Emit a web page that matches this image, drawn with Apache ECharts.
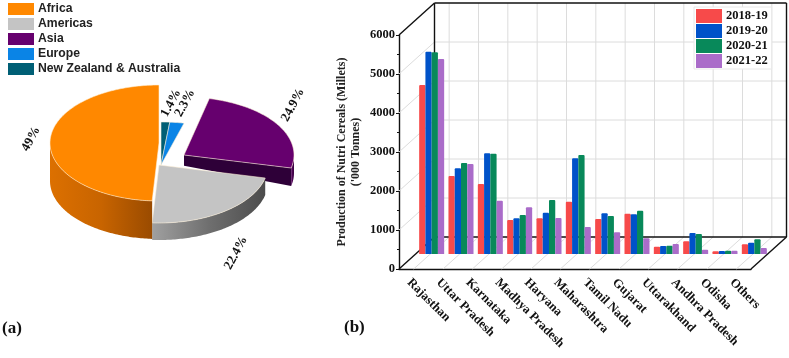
<!DOCTYPE html>
<html><head><meta charset="utf-8">
<style>html,body{margin:0;padding:0;background:#fff}#c{width:789px;height:358px}</style>
<script src="https://cdn.jsdelivr.net/npm/echarts@6/dist/echarts.min.js"></script>
</head><body><div id="c"></div>
<script>
// ---- Data: pie (a)
const regions = ['Africa','Americas','Asia','Europe','New Zealand & Australia'];
const shares  = [49, 22.4, 24.9, 2.3, 1.4];
// ---- Data: bars (b)
const states = ['Rajasthan','Uttar Pradesh','Karnataka','Madhya Pradesh','Haryana','Maharashtra','Tamil Nadu','Gujarat','Uttarakhand','Andhra Pradesh','Odisha','Others'];
const years  = ['2018-19','2019-20','2020-21','2021-22'];
const y2018 = [4333,2000,1795,872,915,1342,897,1034,188,325,68,248];
const y2019 = [5187,2197,2581,915,1060,2453,1043,1017,205,538,77,290];
const y2020 = [5170,2333,2573,1000,1385,2538,974,1111,214,513,85,376];
const y2021 = [5000,2308,1367,1197,923,692,556,402,256,111,85,154];
const yearValues = [y2018,y2019,y2020,y2021];
const yearColors = ['#f74a4a','#0052c9','#08895a','#aa6cc9'];

// ---- Appearance of the pie slices (drawing order matters: back to front)
const sliceStyle = {
  'New Zealand & Australia': {top:'#005f75',cx:161,cy:165,rx:100,ry:43,depth:0,lx:171,ly:103},
  'Europe':  {top:'#0a84e6',cx:161,cy:165,rx:100,ry:43,depth:0,lx:185,ly:103},
  'Asia':    {top:'#66006e',face:'#2e0038',side:['#5a0a62','#3a0040'],cx:184,cy:155,rx:110,ry:58,depth:18,lx:293,ly:105},
  'Americas':{top:'#c4c4c4',side:['#a0a0a0','#6f6f6f','#4c4c4c'],cx:159,cy:165,rx:109,ry:58,depth:17,lx:236,ly:253},
  'Africa':  {top:'#ff8800',side:['#dc7000','#c86400','#9a4b00'],cx:159,cy:143,rx:109,ry:58,depth:38,lx:31,ly:139}
};
// Clockwise start angle of each slice, from the top of the pie
const clockwiseOrder = ['New Zealand & Australia','Europe','Asia','Americas','Africa'];
function sliceAngles(name){
  let a = 0;
  for (const n of clockwiseOrder){
    const d = shares[regions.indexOf(n)] * 3.6;
    if (n === name) return [a, a + d];
    a += d;
  }
}
function pt(s, deg, dy){
  const r = deg * Math.PI / 180;
  return [s.cx + s.rx * Math.sin(r), s.cy - s.ry * Math.cos(r) + (dy || 0)];
}
function arc(s, a, b, dy){
  const out = [], n = Math.max(2, Math.ceil(Math.abs(b - a)));
  for (let i = 0; i <= n; i++) out.push(pt(s, a + (b - a) * i / n, dy));
  return out;
}
function hGrad(stops){
  return {type:'linear',x:0,y:0,x2:1,y2:0,colorStops:stops.map((c,i)=>({offset:i/(stops.length-1),color:c}))};
}
function renderSlice(name){
  return function(params, api){
    const s = sliceStyle[name], val = api.value(0);
    const [a0, a1] = sliceAngles(name);
    const kids = [];
    if (s.depth){
      // cut face (only Asia shows it) and the curved outer side
      if (s.face){
        const e = pt(s, a1);
        kids.push({type:'polygon',shape:{points:[[s.cx,s.cy],e,[e[0],e[1]+s.depth],[s.cx,s.cy+s.depth*0.6]]},style:{fill:s.face}});
      }
      const from = Math.max(a0, 90), to = Math.min(a1, 270);
      if (to > from){
        const pts = arc(s, from, to, 0).concat(arc(s, to, from, s.depth));
        kids.push({type:'polygon',shape:{points:pts},style:{
          fill: name === 'Africa' ? {type:'linear',x:1,y:0,x2:0,y2:0,colorStops:[{offset:0,color:s.side[2]},{offset:.5,color:s.side[1]},{offset:1,color:s.side[0]}]} : hGrad(s.side)}});
      }
    }
    const top = [[s.cx,s.cy]].concat(arc(s, a0, a1, 0));
    kids.push({type:'polygon',shape:{points:top},style:{fill:s.top,stroke:'rgba(255,240,215,0.8)',lineWidth:0.7}});
    kids.push({type:'text',x:s.lx,y:s.ly,rotation:62*Math.PI/180,style:{
      text: val + '%',x:0,y:0,align:'center',verticalAlign:'middle',
      font:'bold 13px "Liberation Serif"',fill:'#111'}});
    return {type:'group',children:kids};
  };
}
const pieSeries = ['New Zealand & Australia','Europe','Asia','Americas','Africa'].map(name => ({
  type:'custom',name,coordinateSystem:'none',silent:true,z:3,animation:false,
  itemStyle:{color:sliceStyle[name].top},
  data:[[shares[regions.indexOf(name)]]],
  dimensions:['share'],encode:{value:0},
  renderItem:renderSlice(name)
}));

// ---- Pseudo-3D box around the bar chart, derived from the front axes
const depthX = 35.5, depthY = -32;
const yTicks = [0,1000,2000,3000,4000,5000,6000];
function renderBox(params, api){
  const g = params.coordSys, d = (p)=>[p[0]+depthX,p[1]+depthY];
  const grey = {stroke:'#dcdcdc',lineWidth:1}, black = {stroke:'#111',lineWidth:1.4};
  const line = (a,b,st)=>({type:'line',shape:{x1:a[0],y1:a[1],x2:b[0],y2:b[1]},style:st});
  const kids = [];
  const L = g.x, R = g.x + g.width, T = g.y, B = g.y + g.height;
  yTicks.forEach(v=>{
    const p = [L, api.coord([0,v])[1]], q = [R, p[1]];
    if (v > 0 && v < 6000) kids.push(line(d(p), d(q), grey));
    if (v > 0 && v < 6000) kids.push(line(p, d(p), grey));
  });
  states.forEach((c,i)=>{
    const x = api.coord([i,0])[0];
    kids.push(line(d([x,B]), d([x,T]), grey));
    kids.push(line([x,B], d([x,B]), grey));
  });
  kids.push(line(d([L,T]), d([R,T]), black), line(d([L,T]), d([L,B]), black), line(d([R,T]), d([R,B]), black), line(d([L,B]), d([R,B]), black));
  kids.push(line([L,T], d([L,T]), black), line([L,B], d([L,B]), black), line([R,B], d([R,B]), black));
  return {type:'group',children:kids};
}

const serif = '"Liberation Serif"';
const barSeries = years.map((y,i)=>({
  type:'bar',name:y,xAxisIndex:1,yAxisIndex:1,data:yearValues[i],
  barWidth:6.25,barGap:0,z:3,animation:false,silent:true,
  itemStyle:{color:yearColors[i],borderRadius:[1,1,0,0]}
}));

const option = {
  animation:false,backgroundColor:'#fff',
  legend:[
    {data:regions,orient:'vertical',left:8,top:3,padding:0,itemWidth:26,itemHeight:12,itemGap:3,icon:'rect',selectedMode:false,
     textStyle:{fontFamily:'"Liberation Sans"',fontWeight:'bold',fontSize:12.2,color:'#222',padding:[1,0,0,-1]}},
    {data:years,orient:'vertical',left:694,top:7,padding:[2,4,1,2],itemWidth:26,itemHeight:14,itemGap:1,icon:'rect',selectedMode:false,
     backgroundColor:'#fff',borderColor:'#e8e8e8',borderWidth:1,
     textStyle:{fontFamily:serif,fontWeight:'bold',fontSize:12.5,color:'#111',padding:[0,0,0,-1]}}
  ],
  grid:[
    {left:399,top:35,width:352,height:234},
    {left:417,top:20,width:352,height:234}
  ],
  xAxis:[
    {type:'category',gridIndex:0,data:states,
     axisLine:{lineStyle:{color:'#111',width:1.4}},
     axisTick:{alignWithLabel:true,length:3,lineStyle:{color:'#111'}},
     axisLabel:{rotate:-45,interval:0,margin:7,verticalAlign:'top',fontFamily:serif,fontWeight:'bold',fontSize:12.6,color:'#111'}},
    {type:'category',gridIndex:1,data:states,show:false},
    {type:'category',gridIndex:0,data:states,position:'bottom',
     axisLine:{show:false},axisLabel:{show:false},axisTick:{length:2,lineStyle:{color:'#111'}}}
  ],
  yAxis:[
    {type:'value',gridIndex:0,min:0,max:6000,interval:1000,
     name:"Production of Nutri Cereals (Millets)\n('000 Tonnes)",nameLocation:'middle',nameRotate:90,nameGap:36,
     nameTextStyle:{fontFamily:serif,fontWeight:'bold',fontSize:12,color:'#222',lineHeight:14},
     axisLine:{show:true,lineStyle:{color:'#111',width:1.4}},
     axisTick:{show:true,length:3,lineStyle:{color:'#111'}},
     minorTick:{show:true,splitNumber:2,length:2,lineStyle:{color:'#111'}},
     splitLine:{show:false},
     axisLabel:{margin:4,formatter:(v)=>String(v),fontFamily:serif,fontWeight:'bold',fontSize:12.5,color:'#111'}},
    {type:'value',gridIndex:1,min:0,max:6000,show:false,splitLine:{show:false}}
  ],
  series:[
    {type:'custom',name:'box',xAxisIndex:0,yAxisIndex:0,silent:true,z:1,clip:false,data:[[0,0]],renderItem:renderBox,animation:false}
  ].concat(barSeries,pieSeries),
  graphic:[
    {type:'text',left:2,top:320,style:{text:'(a)',font:'bold 17px '+serif,fill:'#111'}},
    {type:'text',left:344,top:319,style:{text:'(b)',font:'bold 17px '+serif,fill:'#111'}}
  ]
};
echarts.init(document.getElementById('c'),null,{renderer:'canvas'}).setOption(option);
</script></body></html>
